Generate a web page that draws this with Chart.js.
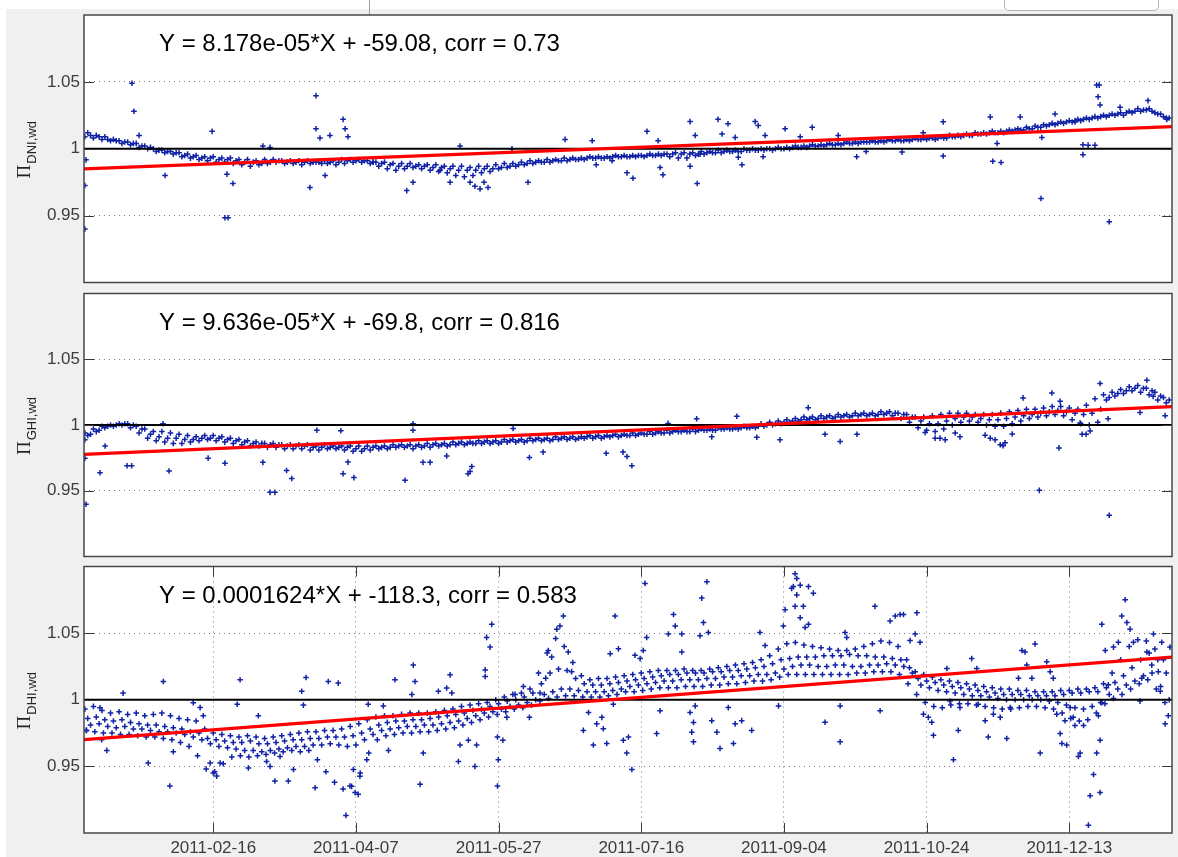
<!DOCTYPE html>
<html>
<head>
<meta charset="utf-8">
<script src="https://cdn.jsdelivr.net/npm/chart.js@4.4.1/dist/chart.umd.min.js"></script>
<style>
  body { margin: 0; background: #f0f0f0; width: 1178px; height: 857px; overflow: hidden; position: relative; }
  canvas { position: absolute; left: 0; }
  .strip { position: absolute; background: #fff; }
</style>
</head>
<body>
<div class="strip" style="left:0;top:0;width:1178px;height:9px"></div>
<div class="strip" style="left:0;top:0;width:6px;height:857px"></div>
<div style="position:absolute;left:369px;top:0;width:1px;height:15px;background:#a0a0a0"></div>
<div style="position:absolute;left:1004px;top:-6px;width:153px;height:15px;border:1px solid #b5b5b5;border-radius:0 0 5px 5px;background:#fff"></div>
<canvas id="pDNI" width="1178" height="288" style="top:0"></canvas>
<canvas id="pGHI" width="1178" height="274" style="top:288px"></canvas>
<canvas id="pDHI" width="1178" height="296" style="top:561px"></canvas>
<script>
// x = days since 2011-01-01
const xMin = 0.7, xMax = 382;
const tickDays = [46, 96, 146, 196, 246, 296, 346];
const tickLabels = ['2011-02-16', '2011-04-07', '2011-05-27', '2011-07-16', '2011-09-04', '2011-10-24', '2011-12-13'];
const yTicks = [0.95, 1, 1.05];

// fit lines (value at left and right edge)
const fitDays = [0.7, 382];
const dniFit = [0.985, 1.0165];
const ghiFit = [0.9777, 1.014];
const dhiFit = [0.970, 1.032];

// DNI, tracks every 3 days
const dniMain = [1.009,1.008,1.007,1.006,1.006,1.005,1.004,1.002,
 1.000,0.999,0.998,0.997,0.996,0.995,0.994,0.994,
 0.993,0.993,0.992,0.992,0.991,0.992,0.992,0.991,
 0.991,0.991,0.991,0.990,0.991,0.991,0.992,0.992,
 0.992,0.991,0.990,0.990,0.989,0.989,0.989,0.988,
 0.988,0.988,0.987,0.987,0.987,0.986,0.987,0.987,
 0.988,0.989,0.989,0.990,0.991,0.991,0.992,0.992,
 0.993,0.993,0.993,0.994,0.994,0.994,0.995,0.995,
 0.995,0.995,0.996,0.996,0.996,0.997,0.997,0.997,
 0.998,0.998,0.999,0.999,0.999,1.000,1.000,1.000,
 1.000,1.001,1.001,1.002,1.002,1.003,1.003,1.004,
 1.004,1.005,1.005,1.005,1.006,1.006,1.007,1.007,
 1.007,1.008,1.008,1.008,1.009,1.010,1.010,1.011,
 1.012,1.012,1.013,1.013,1.014,1.015,1.016,1.017,
 1.018,1.019,1.020,1.021,1.022,1.023,1.024,1.025,
 1.026,1.027,1.028,1.030,1.029,1.027,1.024];
const dniMid = [1.010,1.009,1.007,1.006,1.005,1.004,1.002,1.001,
 0.999,0.998,0.997,0.995,0.994,0.993,0.993,0.992,
 0.992,0.991,0.990,0.990,0.989,0.990,0.991,0.990,
 0.990,0.990,0.990,0.989,0.990,0.990,0.991,0.991,
 0.991,0.990,0.989,0.988,0.987,0.987,0.987,0.987,
 0.986,0.986,0.985,0.984,0.984,0.984,0.985,0.985,
 0.986,0.987,0.988,0.989,0.990,0.990,0.991,0.991,
 0.992,0.992,0.993,0.993,0.993,0.994,0.994,0.994,
 0.995,0.995,0.995,0.996,0.996,0.996,0.996,0.996,
 0.997,0.997,0.998,0.998,0.998,0.999,0.999,1.000,
 1.000,1.000,1.001,1.001,1.002,1.002,1.003,1.003,
 1.004,1.004,1.005,1.005,1.005,1.006,1.006,1.006,
 1.007,1.007,1.008,1.008,1.008,1.009,1.010,1.010,
 1.011,1.012,1.012,1.013,1.014,1.014,1.015,1.016,
 1.018,1.019,1.020,1.021,1.022,1.023,1.024,1.025,
 1.026,1.027,1.028,1.029,1.028,1.026,1.023];
const dniSpread = [1.012,1.010,1.009,1.007,1.004,1.003,1.001,1.000,
 0.998,0.997,0.996,0.994,0.993,0.992,0.991,0.990,
 0.990,0.989,0.988,0.987,0.988,0.989,0.990,0.989,
 0.989,0.988,0.989,0.990,0.989,0.988,0.989,0.990,
 0.990,0.989,0.987,0.985,0.984,0.985,0.986,0.985,
 0.984,0.983,0.982,0.980,0.979,0.980,0.982,0.983,
 0.985,0.986,0.987,0.988,0.989,0.990,0.990,0.991,
 0.991,0.992,0.992,0.993,0.993,0.993,0.994,0.994,
 0.994,0.994,0.995,0.995,0.994,0.993,0.993,0.995,
 0.996,0.997,0.997,0.998,0.998,0.999,0.999,0.999,
 0.999,1.000,1.000,1.001,1.001,1.002,1.002,1.003,
 1.003,1.004,1.004,1.005,1.005,1.005,1.006,1.006,
 1.006,1.007,1.007,1.007,1.008,1.009,1.009,1.010,
 1.011,1.011,1.012,1.012,1.013,1.014,1.015,1.016,
 1.017,1.018,1.019,1.020,1.021,1.022,1.023,1.024,
 1.025,1.025,1.027,1.028,1.030,1.026,1.023];
const dniOutliers = [[1.0,0.940],[1.0,0.9725],[1.4,0.9917],[17.5,1.049],[18.2,1.028],[20.0,1.010],[29.1,0.980],
 [45.6,1.013],[50.1,0.9484],[51.2,0.9484],[50.8,0.981],[52.9,0.974],[63.4,1.002],[65.9,1.001],[82.0,1.0397],
 [82.0,1.015],[83.4,1.008],[85.2,0.980],[79.9,0.971],[91.5,1.022],[92.2,1.015],[93.2,1.009],[86.9,1.010],
 [102.0,0.990],[113.8,0.9687],[116.0,0.975],[125.5,0.984],[129.0,0.975],[136.0,0.975],[137.7,0.972],
 [139.5,0.970],[140.9,0.975],[142.3,0.971],[156.3,0.975],[132.5,1.002],[150.7,1.000],[169.3,1.007],
 [178.8,1.006],[180.2,0.988],[185.8,0.991],[191.0,0.982],[193.1,0.978],[198.0,1.013],[201.9,1.006],
 [202.6,0.986],[203.6,0.9805],[213.1,1.0203],[214.9,1.010],[213.1,0.987],[215.6,0.974],[216.6,0.996],
 [222.9,1.022],[224.3,1.011],[226.4,1.0187],[228.9,1.0085],[230.0,0.9937],[231.3,0.988],[235.9,1.0203],
 [237.0,1.0173],[239.4,1.010],[238.7,0.994],[246.4,1.015],[251.7,1.009],[255.9,1.016],[271.5,0.994],
 [274.8,0.998],[265.0,1.010],[294.8,1.012],[287.4,0.9975],[301.8,1.0201],[301.8,0.9946],[318.3,1.0238],
 [319.2,0.9907],[322.1,0.9897],[320.7,1.004],[328.8,1.0238],[336.4,1.0084],[336.1,0.9628],[341.0,1.026],
 [348.0,1.020],[350.8,1.003],[350.8,0.9956],[352.6,1.0027],[355.0,1.0027],[355.6,1.0476],[356.5,1.0476],
 [356.1,1.0388],[356.8,1.0328],[360.0,0.9454],[363.8,1.031],[373.6,1.036],[380.2,1.022]];

// GHI
const ghiMain = [0.994,0.997,0.999,1.000,1.001,1.001,0.999,0.997,
 0.995,0.995,0.994,0.993,0.992,0.991,0.992,0.992,
 0.991,0.990,0.989,0.988,0.987,0.986,0.986,0.985,
 0.985,0.985,0.985,0.984,0.985,0.984,0.984,0.984,
 0.984,0.984,0.984,0.984,0.985,0.985,0.985,0.985,
 0.986,0.986,0.986,0.987,0.987,0.987,0.988,0.988,
 0.988,0.989,0.989,0.989,0.990,0.990,0.990,0.991,
 0.991,0.991,0.991,0.992,0.992,0.992,0.993,0.993,
 0.994,0.994,0.995,0.995,0.996,0.996,0.996,0.997,
 0.997,0.997,0.998,0.998,0.998,0.999,0.999,1.001,
 1.002,1.003,1.004,1.005,1.006,1.006,1.007,1.007,
 1.008,1.008,1.009,1.009,1.009,1.010,1.010,1.009,
 1.008,1.006,1.006,1.007,1.008,1.009,1.009,1.009,
 1.008,1.008,1.008,1.009,1.010,1.011,1.012,1.012,
 1.013,1.014,1.014,1.013,1.012,1.015,1.020,1.023,
 1.025,1.027,1.029,1.030,1.028,1.025,1.021];
const ghiMid = [0.993,0.996,0.999,1.000,1.001,1.000,0.997,0.993,
 0.991,0.990,0.990,0.989,0.989,0.990,0.990,0.990,
 0.989,0.988,0.987,0.986,0.986,0.985,0.985,0.984,
 0.984,0.984,0.983,0.983,0.983,0.983,0.983,0.982,
 0.982,0.983,0.983,0.983,0.984,0.984,0.984,0.984,
 0.985,0.985,0.985,0.986,0.986,0.986,0.987,0.987,
 0.987,0.988,0.988,0.988,0.989,0.989,0.989,0.990,
 0.990,0.990,0.991,0.991,0.991,0.992,0.992,0.992,
 0.993,0.993,0.994,0.994,0.995,0.995,0.995,0.996,
 0.996,0.996,0.997,0.997,0.998,0.998,0.999,1.000,
 1.001,1.002,1.003,1.004,1.005,1.005,1.006,1.006,
 1.007,1.007,1.008,1.008,1.008,1.009,1.009,1.008,
 1.006,1.003,1.001,1.001,1.003,1.005,1.006,1.006,
 1.005,1.004,1.004,1.005,1.006,1.007,1.008,1.009,
 1.010,1.011,1.010,1.009,1.008,1.009,1.012,1.021,
 1.024,1.026,1.028,1.028,1.026,1.022,1.019];
const ghiSpread = [0.992,0.995,0.998,0.999,1.000,0.998,0.994,0.990,
 0.988,0.987,0.986,0.986,0.987,0.988,0.989,0.988,
 0.987,0.986,0.985,0.984,0.984,0.983,0.983,0.982,
 0.982,0.982,0.981,0.981,0.982,0.982,0.981,0.980,
 0.980,0.981,0.982,0.982,0.983,0.983,0.982,0.983,
 0.983,0.984,0.984,0.985,0.985,0.986,0.986,0.986,
 0.986,0.987,0.987,0.987,0.988,0.988,0.988,0.989,
 0.989,0.989,0.990,0.990,0.990,0.991,0.991,0.992,
 0.992,0.993,0.993,0.994,0.994,0.995,0.995,0.995,
 0.996,0.996,0.997,0.997,0.997,0.998,0.998,0.999,
 1.000,1.001,1.002,1.003,1.004,1.004,1.005,1.005,
 1.006,1.006,1.007,1.007,1.007,1.008,1.007,1.005,
 1.002,0.998,0.996,0.995,0.997,1.000,1.002,1.003,
 1.002,1.000,0.999,0.999,1.001,1.003,1.005,1.006,
 1.007,1.008,1.007,1.004,1.001,1.000,1.002,1.019,
 1.022,1.024,1.026,1.025,1.023,1.019,1.017];
const ghiOutliers = [[1.4,0.9397],[1.0,0.9748],[1.0,0.9888],[6.3,0.9637],[8.1,0.984],[15.8,0.969],[17.4,0.969],
 [28.4,1.001],[30.5,0.965],[44.2,0.9748],[50.1,0.971],[63.4,0.9716],[71.7,0.9654],[73.5,0.9593],[65.9,0.9488],
 [67.6,0.9488],[82.3,0.996],[91.5,0.963],[93.2,0.9718],[95.3,0.960],[90.7,0.9956],[113.2,0.958],[135.3,0.963],
 [136.6,0.9684],[136.0,0.9647],[116.0,1.001],[116.0,0.996],[127.8,0.9765],[119.5,0.9716],[122.0,0.9716],
 [156.8,0.9753],[161.6,0.9794],[151.1,0.9973],[183.7,0.9785],[189.6,0.9794],[191.0,0.976],[192.7,0.969],
 [205.4,1.0012],[215.4,1.0047],[229.5,1.0066],[220.7,0.991],[244.6,0.9887],[236.5,0.9907],[260.4,0.993],
 [265.7,0.9875],[271.6,0.993],[254.5,1.0132],[295.5,0.9943],[299.0,0.990],[300.7,0.990],[302.5,0.9887],
 [306.0,0.9939],[307.7,0.991],[316.5,0.9923],[318.3,0.990],[320.0,0.9887],[321.8,0.985],[323.5,0.9865],
 [326.0,0.9931],[322.8,0.9843],[329.8,1.0206],[339.9,1.0243],[342.8,1.018],[342.4,0.9826],[349.8,1.0015],
 [350.5,0.993],[351.9,0.993],[353.3,0.9955],[359.6,1.0047],[360.0,0.9314],[335.5,0.9503],[370.8,1.0096],
 [379.6,1.0071],[375.4,1.0218],[356.8,1.0316],[373.2,1.034]];

// DHI, four tracks every 3 days
const dhiTrack1 = [0.993,0.995,0.992,0.990,0.991,0.989,0.990,0.988,
 0.989,0.990,0.988,0.986,0.985,0.984,0.978,0.975,
 0.974,0.973,0.972,0.973,0.972,0.971,0.972,0.973,
 0.974,0.975,0.976,0.976,0.977,0.977,0.978,0.980,
 0.982,0.985,0.987,0.988,0.988,0.989,0.990,0.990,
 0.990,0.991,0.992,0.993,0.995,0.996,0.997,0.998,
 1.000,1.002,1.004,1.005,1.008,1.020,1.035,1.046,
 1.040,1.028,1.018,1.015,1.016,1.016,1.017,1.018,
 1.019,1.020,1.021,1.022,1.022,1.022,1.023,1.022,
 1.022,1.023,1.024,1.025,1.026,1.027,1.028,1.030,
 1.033,1.038,1.042,1.043,1.041,1.040,1.039,1.038,
 1.037,1.037,1.038,1.040,1.042,1.044,1.043,1.040,
 1.030,1.021,1.019,1.017,1.015,1.014,1.013,1.012,
 1.011,1.010,1.009,1.008,1.008,1.007,1.007,1.006,
 1.006,1.006,1.007,1.007,1.008,1.008,1.009,1.012,
 1.020,1.030,1.040,1.045,1.044,1.038,1.030];
const dhiTrack2 = [0.986,0.987,0.985,0.984,0.985,0.983,0.982,0.981,
 0.981,0.980,0.979,0.978,0.976,0.975,0.971,0.970,
 0.969,0.968,0.968,0.969,0.967,0.967,0.968,0.969,
 0.970,0.970,0.971,0.971,0.972,0.972,0.972,0.973,
 0.975,0.978,0.981,0.983,0.984,0.984,0.985,0.985,
 0.986,0.987,0.988,0.989,0.990,0.992,0.993,0.995,
 0.997,0.999,1.000,1.002,1.005,1.012,1.020,1.023,
 1.022,1.016,1.012,1.011,1.011,1.012,1.013,1.014,
 1.015,1.016,1.017,1.018,1.019,1.019,1.020,1.020,
 1.020,1.021,1.021,1.022,1.022,1.023,1.024,1.025,
 1.027,1.030,1.031,1.032,1.032,1.032,1.033,1.033,
 1.033,1.034,1.033,1.033,1.032,1.032,1.031,1.030,
 1.024,1.016,1.014,1.013,1.011,1.010,1.009,1.008,
 1.007,1.006,1.005,1.004,1.004,1.004,1.003,1.003,
 1.003,1.003,1.004,1.005,1.005,1.006,1.006,1.009,
 1.013,1.018,1.024,1.030,1.035,1.030,1.020];
const dhiTrack3 = [0.981,0.982,0.980,0.979,0.980,0.978,0.978,0.977,
 0.976,0.976,0.975,0.974,0.972,0.970,0.967,0.965,
 0.964,0.963,0.962,0.962,0.961,0.962,0.963,0.964,
 0.965,0.965,0.966,0.966,0.967,0.966,0.965,0.966,
 0.970,0.974,0.977,0.978,0.979,0.980,0.980,0.981,
 0.981,0.982,0.983,0.984,0.986,0.988,0.990,0.991,
 0.993,0.995,0.996,0.998,1.000,1.004,1.006,1.008,
 1.008,1.007,1.006,1.006,1.006,1.007,1.008,1.010,
 1.011,1.012,1.013,1.014,1.014,1.015,1.015,1.015,
 1.016,1.016,1.017,1.017,1.018,1.018,1.019,1.019,
 1.020,1.023,1.025,1.026,1.026,1.025,1.025,1.026,
 1.026,1.025,1.025,1.026,1.026,1.027,1.026,1.025,
 1.020,1.011,1.009,1.007,1.006,1.005,1.004,1.003,
 1.003,1.002,1.001,1.000,1.000,1.000,1.000,1.000,
 0.999,0.998,0.996,0.994,0.993,0.995,0.998,1.004,
 1.008,1.011,1.014,1.018,1.020,1.010,1.000];
const dhiTrack4 = [0.977,0.976,0.975,0.975,0.974,0.974,0.973,0.972,
 0.972,0.971,0.970,0.968,0.965,0.958,0.948,0.946,
 0.952,0.957,0.958,0.957,0.958,0.959,0.960,0.961,
 0.962,0.961,0.962,0.955,0.946,0.938,0.933,0.935,
 0.945,0.960,0.970,0.973,0.974,0.975,0.975,0.976,
 0.976,0.977,0.978,0.979,0.981,0.983,0.985,0.987,
 0.989,0.991,0.993,0.994,0.996,0.999,1.001,1.002,
 1.003,1.003,1.002,1.002,1.002,1.003,1.004,1.006,
 1.006,1.007,1.008,1.009,1.009,1.009,1.010,1.010,
 1.010,1.011,1.011,1.012,1.012,1.013,1.014,1.014,
 1.015,1.017,1.019,1.019,1.019,1.019,1.019,1.019,
 1.019,1.019,1.020,1.020,1.021,1.021,1.021,1.019,
 1.012,1.004,0.998,0.995,0.994,0.996,0.997,0.997,
 0.996,0.995,0.994,0.993,0.993,0.994,0.995,0.995,
 0.994,0.993,0.990,0.986,0.984,0.985,0.990,0.997,
 1.001,1.004,1.008,1.012,1.015,1.008,0.998];
const dhiOutliers = [[1.6,0.977],[6.3,0.994],[14.4,1.005],[6.9,0.970],[8.7,0.962],[28.5,1.0137],[30.8,0.9353],
 [23.2,0.9525],[32.0,0.961],[39.0,0.9978],[41.4,0.9941],[42.5,0.988],[44.9,0.9525],[46.0,0.945],[47.2,0.9427],
 [48.4,0.9525],[55.4,1.015],[54.4,0.9966],[58.3,0.9488],[61.8,0.988],[64.7,0.9537],[65.9,0.950],[67.6,0.939],
 [69.4,0.9574],[72.3,0.939],[74.1,0.9476],[77.0,1.0064],[78.5,1.0167],[77.6,0.996],[81.7,0.934],[86.3,1.0137],
 [89.8,1.0125],[92.5,0.9132],[93.9,0.9353],[95.7,0.9304],[96.8,0.929],[95.1,0.9476],[97.4,0.9426],[99.8,0.955],
 [100.3,0.9966],[105.6,0.9954],[107.4,0.962],[109.7,1.015],[116.1,1.026],[116.7,1.0137],[115.6,1.004],
 [118.5,0.9365],[119.6,0.960],[124.9,1.0064],[127.8,1.0088],[129.6,1.0051],[129.0,1.0187],[131.9,0.9537],
 [132.5,0.966],[135.4,0.9696],[137.7,0.950],[138.3,0.966],[141.3,1.0224],[141.8,1.0468],[143.6,1.0566],
 [143.0,1.0395],[141.3,1.0174],[145.6,0.972],[145.6,0.9353],[145.9,0.955],[147.5,0.9696],[148.9,0.9868],
 [151.8,1.004],[154.7,1.010],[156.8,0.9868],[160.5,1.0051],[162.5,1.0162],[163.4,1.037],[164.6,1.032],
 [167.5,1.0554],[168.7,1.0628],[166.4,1.053],[170.4,1.0358],[171.6,1.0211],[175.7,0.977],[177.5,0.9904],
 [179.2,0.966],[180.4,0.9819],[182.2,0.9868],[182.7,0.9782],[183.9,0.9672],[185.1,1.0346],[186.8,1.0628],
 [188.0,1.0382],[186.2,0.9966],[189.7,0.9696],[190.9,0.960],[191.5,0.972],[192.7,0.9476],[193.8,1.0334],
 [195.6,1.0309],[197.3,1.0873],[197.9,1.0468],[196.7,1.037],[201.4,0.9746],[202.6,0.9917],[205.5,1.0493],
 [207.3,1.064],[207.9,1.0554],[210.2,1.0493],[210.2,1.0358],[213.1,0.9904],[213.7,0.9757],[214.3,0.9684],
 [214.3,0.983],[214.9,0.9954],[216.6,1.0481],[217.2,1.0763],[217.8,1.0579],[219.0,1.0885],[219.5,1.0505],
 [220.7,0.9843],[222.5,0.9757],[223.6,0.9635],[226.5,0.9941],[228.3,0.9672],[228.9,0.9819],[231.2,0.9843],
 [234.7,0.977],[237.6,1.0505],[239.4,1.0407],[244.1,0.9954],[245.8,1.0554],[246.4,1.0676],[249.3,1.0849],
 [249.9,1.0946],[250.5,1.091],[251.7,1.086],[248.7,1.0836],[254.6,1.0849],[256.3,1.080],[250.5,1.0787],
 [249.9,1.0701],[252.8,1.0701],[251.7,1.0615],[253.4,1.0542],[254.6,1.0566],[260.4,0.9831],[265.7,0.9684],
 [265.7,0.9954],[267.4,1.0505],[268.0,1.0468],[277.9,1.0701],[279.7,0.9917],[283.2,1.0591],[285.0,1.0628],
 [286.7,1.064],[287.9,1.064],[290.2,1.0444],[292.6,1.0652],[292.0,1.0493],[293.7,1.0432],[294.9,0.9892],
 [296.6,0.9868],[298.4,0.9733],[297.8,0.9831],[303.1,1.0235],[304.2,0.999],[305.4,0.955],[307.1,0.977],
 [307.7,0.9941],[311.8,1.0309],[313.6,1.0235],[314.1,0.9966],[316.5,0.9843],[317.6,0.972],[319.4,0.9892],
 [321.8,0.9868],[324.1,0.9709],[325.3,0.9941],[328.2,1.0162],[329.4,1.037],[330.5,1.0358],[331.1,1.026],
 [334.0,1.0419],[332.9,1.0162],[335.8,0.960],[338.1,1.0285],[339.3,1.0211],[340.4,1.0162],[341.6,0.9892],
 [342.8,0.9746],[343.4,0.9672],[345.1,0.966],[344.5,0.9843],[346.3,0.9941],[347.4,0.9868],[348.0,0.9807],
 [349.2,0.9574],[349.8,0.960],[351.0,0.9807],[352.7,0.9059],[353.3,0.9279],[354.5,0.9439],[355.6,0.960],
 [356.2,0.988],[356.8,0.9304],[356.8,0.9696],[357.4,1.0566],[357.4,0.9978],[358.6,1.037],[359.7,1.0113],
 [361.5,1.0395],[363.2,1.0432],[364.4,1.0628],[365.6,1.075],[366.2,1.0579],[367.3,1.053],[368.5,1.0432],
 [370.8,0.999],[371.4,1.0162],[373.2,1.0358],[374.9,1.026],[375.5,1.0493],[377.2,1.0211],[378.4,1.0432],
 [377.9,1.0064],[379.6,0.9819],[380.7,0.988],[381.3,1.0395]];

const markColor = 'rgb(16, 34, 165)';
const tickColor = '#3c3c3c';
const fontFamily = '"Liberation Sans", Arial, sans-serif';

function trackPoints(vals, startDay) {
  return vals.map((v, i) => ({ x: startDay + 3 * i, y: v }));
}

function scatterSet(data) {
  return {
    type: 'scatter',
    data: data,
    pointStyle: 'cross',
    pointRadius: 2.8,
    borderColor: markColor,
    backgroundColor: markColor,
    borderWidth: 1.5,
    order: 3
  };
}

const matlabFrame = {
  id: 'matlab',
  beforeDraw(chart) {
    const a = chart.chartArea;
    chart.ctx.save();
    chart.ctx.fillStyle = '#fff';
    chart.ctx.fillRect(a.left, a.top, a.right - a.left, a.bottom - a.top);
    chart.ctx.restore();
  },
  afterDraw(chart, args, opts) {
    const ctx = chart.ctx;
    const a = chart.chartArea;
    ctx.save();
    // inward tick marks
    ctx.strokeStyle = '#3a3a3a';
    ctx.lineWidth = 1;
    chart.scales.y.ticks.forEach(t => {
      const py = Math.round(chart.scales.y.getPixelForValue(t.value)) + 0.5;
      ctx.beginPath();
      ctx.moveTo(a.left, py); ctx.lineTo(a.left + 10, py);
      ctx.moveTo(a.right - 10, py); ctx.lineTo(a.right, py);
      ctx.stroke();
    });
    if (opts.xTicks) {
      chart.scales.x.ticks.forEach(t => {
        const px = Math.round(chart.scales.x.getPixelForValue(t.value)) + 0.5;
        ctx.beginPath();
        ctx.moveTo(px, a.top); ctx.lineTo(px, a.top + 10);
        ctx.moveTo(px, a.bottom - 10); ctx.lineTo(px, a.bottom);
        ctx.stroke();
      });
    }
    // box
    ctx.lineWidth = 1.5;
    ctx.strokeStyle = '#474747';
    ctx.strokeRect(a.left, a.top, a.right - a.left, a.bottom - a.top);
    // fit equation
    ctx.fillStyle = '#000';
    ctx.font = '24px ' + fontFamily;
    ctx.textBaseline = 'alphabetic';
    ctx.textAlign = 'left';
    ctx.fillText(opts.equation, a.left + 75, a.top + 36);
    // y axis label: Pi with subscript
    const cy = (a.top + a.bottom) / 2 + 1;
    ctx.translate(30, cy);
    ctx.rotate(-Math.PI / 2);
    ctx.fillStyle = '#222';
    const sub = opts.sub;
    ctx.font = '13px ' + fontFamily;
    const subW = ctx.measureText(sub).width;
    ctx.font = '19px "Liberation Serif", "DejaVu Serif", serif';
    const piW = ctx.measureText('\u03A0').width;
    const x0 = -(piW + subW + 1) / 2;
    ctx.fillText('\u03A0', x0, 0);
    ctx.font = '13px ' + fontFamily;
    ctx.fillText(sub, x0 + piW + 1, 6);
    ctx.restore();
  }
};

function makePanel(id, tracks, outliers, fit, equation, sub, showX, padding) {
  const datasets = [
    {
      type: 'scatter', showLine: true,
      data: fitDays.map((d, i) => ({ x: d, y: fit[i] })),
      borderColor: '#ff0000', borderWidth: 3.2, pointRadius: 0, order: 1
    },
    {
      type: 'scatter', showLine: true,
      data: [{ x: xMin, y: 1 }, { x: xMax, y: 1 }],
      borderColor: '#000', borderWidth: 2, pointRadius: 0, order: 2
    }
  ];
  tracks.forEach(t => datasets.push(scatterSet(trackPoints(t.vals, t.start))));
  datasets.push(scatterSet(outliers.map(p => ({ x: p[0], y: p[1] }))));

  const dotted = { color: '#7a7a7a', lineWidth: 1, drawTicks: false };
  return new Chart(document.getElementById(id), {
    type: 'scatter',
    data: { datasets: datasets },
    options: {
      responsive: false,
      animation: false,
      events: [],
      layout: { padding: padding },
      plugins: {
        legend: { display: false },
        tooltip: { enabled: false },
        matlab: { equation: equation, sub: sub, xTicks: showX }
      },
      scales: {
        x: {
          type: 'linear',
          min: xMin, max: xMax,
          display: showX,
          afterBuildTicks: s => { s.ticks = tickDays.map(v => ({ value: v })); },
          afterFit: s => {
            if (showX) s.height = 24;
            s.paddingLeft = 0; s.paddingRight = 0;
          },
          grid: dotted,
          border: { display: false, dash: [1, 4] },
          ticks: {
            autoSkip: false, maxRotation: 0, padding: 5,
            color: tickColor, font: { family: fontFamily, size: 17 },
            callback: (v, i) => tickLabels[i]
          }
        },
        y: {
          min: 0.9, max: 1.1,
          afterBuildTicks: s => { s.ticks = yTicks.map(v => ({ value: v })); },
          afterFit: s => { s.width = 84; s.paddingTop = 0; s.paddingBottom = 0; },
          grid: dotted,
          border: { display: false, dash: [1, 4] },
          ticks: {
            padding: 4,
            color: tickColor, font: { family: fontFamily, size: 17 },
            callback: v => (v === 1 ? '1' : v.toFixed(2))
          }
        }
      }
    },
    plugins: [matlabFrame]
  });
}

makePanel('pDNI',
  [{ vals: dniMain, start: 1 }, { vals: dniSpread, start: 2 }, { vals: dniMid, start: 3 }],
  dniOutliers, dniFit, 'Y = 8.178e-05*X + -59.08, corr = 0.73', 'DNI,wd', false,
  { top: 15, bottom: 3, left: 0, right: 6 });

makePanel('pGHI',
  [{ vals: ghiMain, start: 1 }, { vals: ghiSpread, start: 2 }, { vals: ghiMid, start: 3 }],
  ghiOutliers, ghiFit, 'Y = 9.636e-05*X + -69.8, corr = 0.816', 'GHI,wd', false,
  { top: 2, bottom: 1, left: 0, right: 6 });

makePanel('pDHI',
  [{ vals: dhiTrack1, start: 1 }, { vals: dhiTrack2, start: 2 }, { vals: dhiTrack3, start: 3 }, { vals: dhiTrack4, start: 1.5 }],
  dhiOutliers, dhiFit, 'Y = 0.0001624*X + -118.3, corr = 0.583', 'DHI,wd', true,
  { top: 2, bottom: 0, left: 0, right: 6 });
</script>
</body>
</html>
